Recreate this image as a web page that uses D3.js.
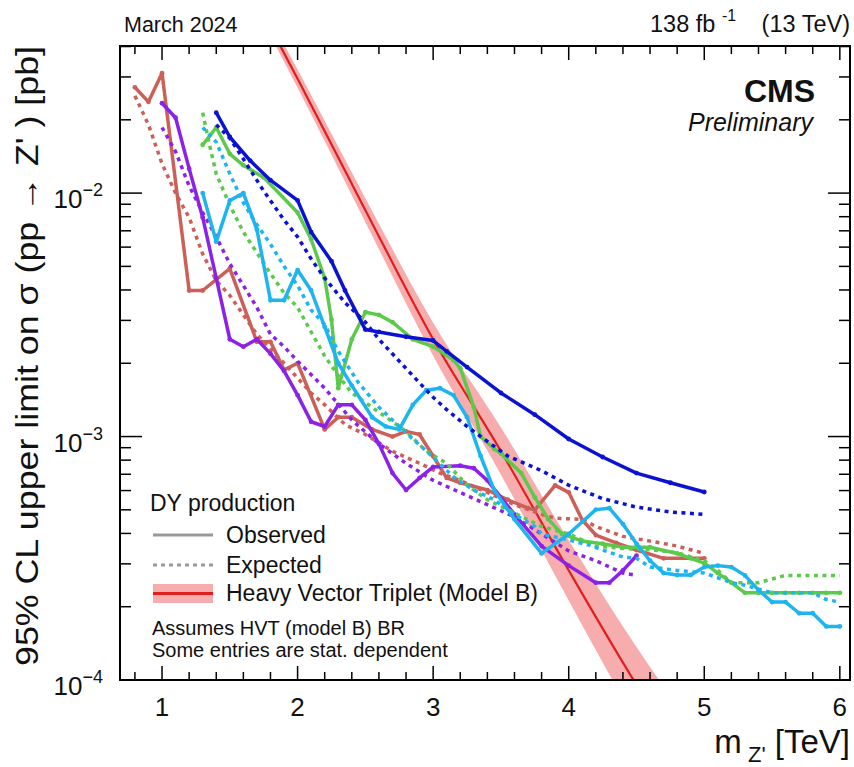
<!DOCTYPE html>
<html>
<head>
<meta charset="utf-8">
<script src="https://cdn.jsdelivr.net/npm/d3@7"></script>
<style>
  html, body { margin: 0; padding: 0; background: #fff; }
  text { font-family: "Liberation Sans", Arial, Helvetica, sans-serif; fill: #111; }
</style>
</head>
<body>
<svg id="chart" width="854" height="767"></svg>
<script>
"use strict";

// limits in pb
const redObsMass = [0.8, 0.9, 1.0, 1.2, 1.3, 1.5, 1.7, 1.8, 1.9, 2.0, 2.2, 2.3, 2.4, 2.55, 2.7, 2.8, 2.9, 3.0, 3.1, 3.2, 3.4, 3.55, 3.7, 3.75, 3.9, 4.0, 4.1, 4.2, 4.35, 4.5, 4.7, 5.0];
const redObs = [0.0272, 0.0237, 0.0311, 0.00398, 0.00398, 0.0049, 0.00245, 0.00245, 0.00188, 0.0020, 0.00107, 0.0012, 0.0012, 0.00107, 0.0010, 0.00105, 0.00102, 0.00083, 0.000676, 0.000646, 0.000603, 0.00055, 0.000508, 0.0005, 0.00063, 0.00059, 0.000454, 0.000394, 0.000366, 0.000342, 0.000316, 0.000316];
const redExpMass = [0.8, 0.9, 1.0, 1.1, 1.2, 1.3, 1.4, 1.5, 1.6, 1.7, 1.9, 2.0, 2.1, 2.2, 2.35, 2.5, 2.7, 2.9, 3.05, 3.2, 3.4, 3.6, 3.8, 3.9, 4.1, 4.2, 4.4, 4.6, 4.8, 5.0];
const redExp = [0.0251, 0.0191, 0.0132, 0.0100, 0.00794, 0.00562, 0.00437, 0.0038, 0.00316, 0.00263, 0.0020, 0.00174, 0.00151, 0.00135, 0.00112, 0.00102, 0.00087, 0.000776, 0.000708, 0.00066, 0.000589, 0.000525, 0.000479, 0.000462, 0.000457, 0.000427, 0.000389, 0.000372, 0.000355, 0.000331];

const purpleObsMass = [1.0, 1.1, 1.2, 1.3, 1.4, 1.5, 1.6, 1.7, 1.8, 1.9, 2.0, 2.1, 2.2, 2.3, 2.4, 2.5, 2.6, 2.7, 2.8, 2.9, 3.0, 3.2, 3.3, 3.4, 3.6, 3.8, 4.0, 4.2, 4.3, 4.4, 4.5];
const purpleObs = [0.0234, 0.0204, 0.0126, 0.00794, 0.00447, 0.00251, 0.00234, 0.00251, 0.00219, 0.00186, 0.00148, 0.00115, 0.0011, 0.00135, 0.00135, 0.00117, 0.000933, 0.000708, 0.000603, 0.000676, 0.00075, 0.000759, 0.000741, 0.000661, 0.000479, 0.000355, 0.000295, 0.000251, 0.000251, 0.000282, 0.000324];
const purpleExpMass = [1.0, 1.1, 1.2, 1.3, 1.4, 1.5, 1.6, 1.7, 1.8, 1.9, 2.0, 2.2, 2.4, 2.6, 2.8, 3.0, 3.2, 3.4, 3.6, 3.8, 4.0, 4.2, 4.4, 4.5];
const purpleExp = [0.0186, 0.0148, 0.0107, 0.00832, 0.00661, 0.00513, 0.00417, 0.00339, 0.00263, 0.00234, 0.00204, 0.00158, 0.00117, 0.000933, 0.000776, 0.000661, 0.000589, 0.000525, 0.000468, 0.000398, 0.000339, 0.000309, 0.000275, 0.000269];

const greenObsMass = [1.3, 1.4, 1.5, 1.6, 1.75, 2.0, 2.1, 2.2, 2.25, 2.3, 2.4, 2.5, 2.6, 2.7, 2.85, 3.0, 3.15, 3.2, 3.3, 3.35, 3.45, 3.5, 3.65, 3.75, 3.85, 3.95, 4.1, 4.25, 4.4, 4.6, 4.8, 4.9, 5.0, 5.1, 5.2, 5.3, 5.4, 5.5, 5.6, 5.7, 5.8, 5.9, 6.0];
const greenObs = [0.0158, 0.0186, 0.0145, 0.0130, 0.0116, 0.00832, 0.00646, 0.00447, 0.00302, 0.00158, 0.00251, 0.00324, 0.00316, 0.00295, 0.00251, 0.00234, 0.00206, 0.00191, 0.00132, 0.0010, 0.000891, 0.000851, 0.000708, 0.000562, 0.000457, 0.000398, 0.000372, 0.000363, 0.000351, 0.000351, 0.000331, 0.000316, 0.000302, 0.000275, 0.000251, 0.000228, 0.000228, 0.000228, 0.000228, 0.000228, 0.000228, 0.000228, 0.000228];
const greenExpMass = [1.3, 1.35, 1.4, 1.5, 1.6, 1.7, 1.8, 1.9, 2.0, 2.1, 2.2, 2.3, 2.4, 2.6, 2.8, 2.95, 3.1, 3.25, 3.4, 3.6, 3.8, 4.0, 4.2, 4.4, 4.6, 4.8, 5.0, 5.1, 5.2, 5.4, 5.5, 5.6, 6.0];
const greenExp = [0.0214, 0.0158, 0.0120, 0.00891, 0.00692, 0.00568, 0.00468, 0.00389, 0.00339, 0.00269, 0.00214, 0.00178, 0.00151, 0.00126, 0.00105, 0.000871, 0.000776, 0.000631, 0.00055, 0.000485, 0.000427, 0.000398, 0.000355, 0.000347, 0.000343, 0.000333, 0.000309, 0.000282, 0.000251, 0.000251, 0.00026, 0.000269, 0.000269];

const cyanObsMass = [1.3, 1.4, 1.5, 1.6, 1.7, 1.8, 1.9, 2.0, 2.1, 2.2, 2.3, 2.4, 2.55, 2.65, 2.75, 2.85, 2.95, 3.05, 3.15, 3.25, 3.35, 3.45, 3.6, 3.8, 4.0, 4.1, 4.2, 4.3, 4.4, 4.5, 4.6, 4.7, 4.8, 4.9, 5.0, 5.1, 5.2, 5.3, 5.4, 5.5, 5.6, 5.7, 5.8, 5.9, 6.0];
const cyanObs = [0.0100, 0.00631, 0.00933, 0.0100, 0.00708, 0.00363, 0.00363, 0.00483, 0.00398, 0.00282, 0.0020, 0.00162, 0.0012, 0.0011, 0.00107, 0.00135, 0.00155, 0.00158, 0.00148, 0.0012, 0.000832, 0.000603, 0.000457, 0.000331, 0.000398, 0.000447, 0.000501, 0.000508, 0.000437, 0.000363, 0.000309, 0.000275, 0.00027, 0.00027, 0.000291, 0.000295, 0.000291, 0.000269, 0.000234, 0.000209, 0.000209, 0.000188, 0.000188, 0.000166, 0.000166];
const cyanExpMass = [1.3, 1.4, 1.5, 1.6, 1.7, 1.8, 1.9, 2.0, 2.1, 2.2, 2.3, 2.45, 2.6, 2.7, 2.85, 3.0, 3.15, 3.3, 3.45, 3.6, 3.75, 3.8, 4.0, 4.15, 4.25, 4.4, 4.5, 4.6, 4.8, 5.0, 5.1, 5.2, 5.3, 5.5, 5.8, 5.9, 6.0];
const cyanExp = [0.0186, 0.0162, 0.0120, 0.00912, 0.00741, 0.00617, 0.00501, 0.00417, 0.00331, 0.00288, 0.00224, 0.00166, 0.00132, 0.00117, 0.000977, 0.000822, 0.000682, 0.000603, 0.00055, 0.000479, 0.000427, 0.000398, 0.000376, 0.000358, 0.000342, 0.00032, 0.000316, 0.000291, 0.000282, 0.000275, 0.000263, 0.000251, 0.000245, 0.000228, 0.000228, 0.000214, 0.000209];

const blueObsMass = [1.4, 1.5, 1.65, 1.8, 2.0, 2.1, 2.25, 2.35, 2.5, 2.6, 2.8, 3.0, 3.1, 3.25, 3.5, 3.75, 4.0, 4.25, 4.5, 4.75, 5.0];
const blueObs = [0.0214, 0.0170, 0.0136, 0.0113, 0.00933, 0.00692, 0.00525, 0.00398, 0.00275, 0.00269, 0.00257, 0.00248, 0.00224, 0.00193, 0.00151, 0.00123, 0.000977, 0.000824, 0.000708, 0.000646, 0.000592];
const blueExpMass = [1.4, 1.5, 1.6, 1.75, 1.9, 2.0, 2.1, 2.2, 2.35, 2.5, 2.6, 2.75, 2.9, 3.0, 3.1, 3.25, 3.4, 3.55, 3.8, 4.0, 4.25, 4.5, 4.75, 5.0];
const blueExp = [0.0191, 0.0168, 0.0138, 0.0102, 0.00776, 0.00661, 0.00537, 0.00447, 0.00355, 0.00295, 0.00251, 0.00204, 0.00166, 0.00145, 0.00129, 0.0011, 0.000955, 0.000832, 0.000724, 0.000631, 0.000556, 0.000513, 0.00049, 0.000479];

// HVT model B cross section and relative band width
const hvtMass = [1.5, 1.8, 2.0, 2.5, 3.0, 3.5, 4.0, 4.5, 5.0];
const hvtXsec = [0.100, 0.0479, 0.0295, 0.00851, 0.00251, 0.000871, 0.000282, 0.0000955, 0.0000355];
const hvtUnc = [0.07, 0.08, 0.09, 0.12, 0.17, 0.25, 0.33, 0.43, 0.55];

const xMajorTicks = [1, 2, 3, 4, 5, 6];
const yMajorTicks = [1e-4, 1e-3, 1e-2];
const yTickExp = ["\u22124", "\u22123", "\u22122"];

const curves = [
    { mass: redObsMass, val: redObs, color: "#cc5f58", dashed: false },
    { mass: redExpMass, val: redExp, color: "#cc5f58", dashed: true },
    { mass: purpleObsMass, val: purpleObs, color: "#8c22e6", dashed: false },
    { mass: purpleExpMass, val: purpleExp, color: "#8c22e6", dashed: true },
    { mass: greenObsMass, val: greenObs, color: "#5cc94c", dashed: false },
    { mass: greenExpMass, val: greenExp, color: "#5cc94c", dashed: true },
    { mass: cyanObsMass, val: cyanObs, color: "#1db4ef", dashed: false },
    { mass: cyanExpMass, val: cyanExp, color: "#1db4ef", dashed: true },
    { mass: blueObsMass, val: blueObs, color: "#0b12d2", dashed: false },
    { mass: blueExpMass, val: blueExp, color: "#0b12d2", dashed: true }
];

const padL = 120, padR = 850, padT = 46, padB = 680;

const svg = d3.select("#chart");

const x = d3.scaleLinear().domain([0.69, 6.075]).range([padL, padR]);
const y = d3.scaleLog().domain([1e-4, 0.0402]).range([padB, padT]);

svg.append("defs").append("clipPath").attr("id", "plotclip")
    .append("rect")
    .attr("x", padL).attr("y", padT)
    .attr("width", padR - padL).attr("height", padB - padT);

const plot = svg.append("g").attr("clip-path", "url(#plotclip)");

// HVT band and central line
const hvtPts = hvtMass.map((m, i) => ({ m: m, v: hvtXsec[i], u: hvtUnc[i] }));

plot.append("path")
    .datum(hvtPts)
    .attr("fill", "#f7adad")
    .attr("d", d3.area()
        .x(d => x(d.m))
        .y0(d => y(d.v / (1 + d.u)))
        .y1(d => y(d.v * (1 + d.u)))
        .curve(d3.curveMonotoneX));

plot.append("path")
    .datum(hvtPts)
    .attr("fill", "none")
    .attr("stroke", "#e01e1e")
    .attr("stroke-width", 2.2)
    .attr("d", d3.line().x(d => x(d.m)).y(d => y(d.v)).curve(d3.curveMonotoneX));

const line = d3.line().x(d => x(d[0])).y(d => y(d[1]));

curves.forEach(function(c) {
    let pts = c.mass.map((m, i) => [m, c.val[i]]);
    let p = plot.append("path")
        .datum(pts)
        .attr("fill", "none")
        .attr("stroke", c.color)
        .attr("stroke-width", 3.5)
        .attr("stroke-linejoin", "round")
        .attr("d", line);
    if (c.dashed) {
        p.attr("stroke-dasharray", "4,4.5");
    } else {
        plot.selectAll(null)
            .data(pts)
            .enter()
            .append("circle")
            .attr("cx", d => x(d[0]))
            .attr("cy", d => y(d[1]))
            .attr("r", 2.4)
            .attr("fill", c.color);
    }
});

// frame
svg.append("rect")
    .attr("x", padL).attr("y", padT)
    .attr("width", padR - padL).attr("height", padB - padT)
    .attr("fill", "none")
    .attr("stroke", "#000")
    .attr("stroke-width", 2);

// x ticks, bottom and top
const xMinor = d3.range(8, 61, 2).map(d => d / 10).filter(d => xMajorTicks.indexOf(d) < 0);
const ticks = svg.append("g").attr("stroke", "#000").attr("stroke-width", 1.5);

xMajorTicks.forEach(function(t) {
    ticks.append("line").attr("x1", x(t)).attr("x2", x(t)).attr("y1", padB).attr("y2", padB - 14);
    ticks.append("line").attr("x1", x(t)).attr("x2", x(t)).attr("y1", padT).attr("y2", padT + 14);
});
xMinor.forEach(function(t) {
    ticks.append("line").attr("x1", x(t)).attr("x2", x(t)).attr("y1", padB).attr("y2", padB - 8);
    ticks.append("line").attr("x1", x(t)).attr("x2", x(t)).attr("y1", padT).attr("y2", padT + 8);
});

// y ticks, left and right
let yMinor = [];
[1e-4, 1e-3, 1e-2].forEach(function(dec) {
    for (let k = 2; k <= 9; k++) {
        if (k * dec <= 0.0402) yMinor.push(k * dec);
    }
});
yMajorTicks.forEach(function(t) {
    ticks.append("line").attr("x1", padL).attr("x2", padL + 22).attr("y1", y(t)).attr("y2", y(t));
    ticks.append("line").attr("x1", padR).attr("x2", padR - 22).attr("y1", y(t)).attr("y2", y(t));
});
yMinor.forEach(function(t) {
    ticks.append("line").attr("x1", padL).attr("x2", padL + 11).attr("y1", y(t)).attr("y2", y(t));
    ticks.append("line").attr("x1", padR).attr("x2", padR - 11).attr("y1", y(t)).attr("y2", y(t));
});

// tick labels
svg.selectAll(".xlab")
    .data(xMajorTicks)
    .enter()
    .append("text")
    .attr("class", "xlab")
    .attr("x", d => x(d))
    .attr("y", 716)
    .attr("text-anchor", "middle")
    .attr("font-size", 26)
    .text(d => d);

yMajorTicks.forEach(function(t, i) {
    let lab = svg.append("text")
        .attr("x", 103)
        .attr("y", y(t) + 15)
        .attr("text-anchor", "end")
        .attr("font-size", 26);
    lab.append("tspan").text("10");
    lab.append("tspan").attr("dy", -12).attr("font-size", 18).text(yTickExp[i]);
});

// axis titles
const xt = svg.append("text")
    .attr("x", padR)
    .attr("y", 753)
    .attr("text-anchor", "end")
    .attr("font-size", 33);
xt.append("tspan").text("m");
xt.append("tspan").attr("dy", 9).attr("font-size", 22).text(" Z'");
xt.append("tspan").attr("dy", -9).text(" [TeV]");

svg.append("text")
    .attr("transform", "translate(38," + padT + ") rotate(-90)")
    .attr("text-anchor", "end")
    .attr("font-size", 31)
    .attr("textLength", 620)
    .attr("lengthAdjust", "spacingAndGlyphs")
    .text("95% CL upper limit on \u03c3 (pp \u2192 Z' ) [pb]");

// header
svg.append("text")
    .attr("x", 124).attr("y", 32)
    .attr("font-size", 21.5)
    .text("March 2024");

svg.append("text")
    .attr("x", 650).attr("y", 32)
    .attr("font-size", 23.5)
    .text("138 fb");
svg.append("text")
    .attr("x", 722).attr("y", 21)
    .attr("font-size", 16)
    .text("-1");
svg.append("text")
    .attr("x", padR).attr("y", 32)
    .attr("text-anchor", "end")
    .attr("font-size", 23.5)
    .text("(13 TeV)");

svg.append("text")
    .attr("x", 815).attr("y", 102)
    .attr("text-anchor", "end")
    .attr("font-size", 32)
    .attr("font-weight", "bold")
    .text("CMS");

svg.append("text")
    .attr("x", 813).attr("y", 131)
    .attr("text-anchor", "end")
    .attr("font-size", 25)
    .attr("font-style", "italic")
    .text("Preliminary");

// legend
const leg = svg.append("g");
leg.append("text").attr("x", 150).attr("y", 511).attr("font-size", 23).attr("fill", "#222").text("DY production");

leg.append("line").attr("x1", 153).attr("x2", 213).attr("y1", 535).attr("y2", 535)
    .attr("stroke", "#999").attr("stroke-width", 3);
leg.append("text").attr("x", 226).attr("y", 543).attr("font-size", 23).attr("fill", "#222").text("Observed");

leg.append("line").attr("x1", 153).attr("x2", 213).attr("y1", 565).attr("y2", 565)
    .attr("stroke", "#999").attr("stroke-width", 3).attr("stroke-dasharray", "4,4");
leg.append("text").attr("x", 226).attr("y", 573).attr("font-size", 23).attr("fill", "#222").text("Expected");

leg.append("rect").attr("x", 153).attr("y", 584).attr("width", 60).attr("height", 19).attr("fill", "#f7adad");
leg.append("line").attr("x1", 153).attr("x2", 213).attr("y1", 593.5).attr("y2", 593.5)
    .attr("stroke", "#e01e1e").attr("stroke-width", 3);
leg.append("text").attr("x", 226).attr("y", 601).attr("font-size", 23).attr("fill", "#222").text("Heavy Vector Triplet (Model B)");

leg.append("text").attr("x", 152).attr("y", 635).attr("font-size", 20).attr("fill", "#222").text("Assumes HVT (model B) BR");
leg.append("text").attr("x", 152).attr("y", 657).attr("font-size", 20).attr("fill", "#222").text("Some entries are stat. dependent");
</script>
</body>
</html>
